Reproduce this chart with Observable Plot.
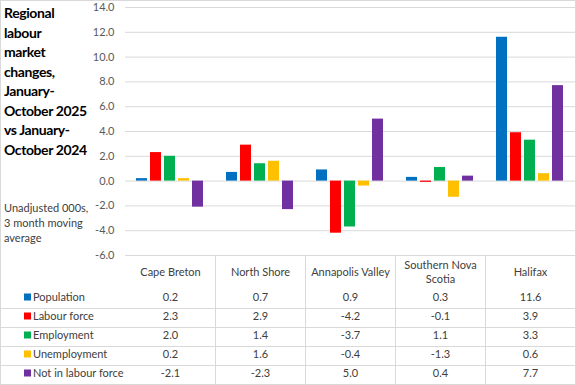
<!DOCTYPE html>
<html><head><meta charset="utf-8">
<script src="https://cdn.jsdelivr.net/npm/d3@7"></script>
<script src="https://cdn.jsdelivr.net/npm/@observablehq/plot@0.6"></script>
<style>
body{margin:0;background:#fff;}
#wrap{position:relative;width:576px;height:385px;overflow:hidden;font-family:Lato,"Open Sans",sans-serif;}
#chart{position:absolute;left:0;top:0;}
#title{position:absolute;left:4px;top:3px;font-weight:bold;font-size:14px;letter-spacing:-0.4px;line-height:19.5px;color:#000;white-space:nowrap;}
#sub{position:absolute;left:4px;top:200px;font-size:11px;line-height:15px;color:#404040;white-space:nowrap;}
</style></head>
<body>
<div id="wrap"><div id="chart"></div>
<div id="title">Regional<br>labour<br>market<br>changes,<br>January-<br>October 2025<br>vs January-<br>October 2024</div>
<div id="sub">Unadjusted 000s,<br>3 month moving<br>average</div>
</div>
<script>
const regions = ["Cape Breton","North Shore","Annapolis Valley","Southern Nova Scotia","Halifax"];
const regionLabels = ["Cape Breton","North Shore","Annapolis Valley","Southern Nova\nScotia","Halifax"];
const seriesNames = ["Population","Labour force","Employment","Unemployment","Not in labour force"];
const seriesColors = ["#0070C0","#FF0000","#00B050","#FFC000","#7030A0"];
const population = [0.2,0.7,0.9,0.3,11.6];
const labourForce = [2.3,2.9,-4.2,-0.1,3.9];
const employment = [2.0,1.4,-3.7,1.1,3.3];
const unemployment = [0.2,1.6,-0.4,-1.3,0.6];
const notInLabourForce = [-2.1,-2.3,5.0,0.4,7.7];
const yTicks = [-6,-4,-2,0,2,4,6,8,10,12,14];

const seriesValues = [population,labourForce,employment,unemployment,notInLabourForce];
const data = [];
seriesValues.forEach((vals,i)=>regions.forEach((r,j)=>data.push({region:r,series:seriesNames[i],value:vals[j]})));

const W=576,H=385,ML=125,MT=7,MB=130,MR=1;
const fmt = d=>d.toFixed(1);
const textColor="#404040";

const rowMarks = seriesValues.map((vals,i)=>Plot.text(regions,{
  fx:d=>d, text:(d,j)=>fmt(vals[j]), frameAnchor:"bottom", lineAnchor:"middle", dy:42+19*i,
  fill:textColor, fontSize:11
}));

const plot = Plot.plot({
  width:W, height:H, marginLeft:ML, marginRight:MR, marginTop:MT, marginBottom:MB,
  style:{fontFamily:'Lato,"Open Sans",sans-serif',fontSize:"11px",background:"transparent",overflow:"visible"},
  fx:{domain:regions, paddingInner:0, paddingOuter:0, axis:null, label:null},
  x:{domain:seriesNames, paddingInner:0.214, paddingOuter:0.82, axis:null, label:null},
  y:{domain:[-6,14], label:null},
  color:{domain:seriesNames, range:seriesColors},
  marks:[
    Plot.gridY(yTicks,{stroke:"#d9d9d9",strokeOpacity:1}),
    Plot.axisY(yTicks,{tickSize:0,tickPadding:11,tickFormat:fmt,label:null,fill:"#595959",fontSize:11}),
    Plot.barY(data,{fx:"region",x:"series",y:"value",fill:"series",inset:0}),
    Plot.text(regions,{fx:d=>d,text:(d,j)=>regionLabels[j],frameAnchor:"bottom",lineAnchor:"middle",dy:16,lineHeight:1.27,fill:textColor,fontSize:11}),
    ...rowMarks
  ]
});
document.getElementById("chart").appendChild(plot);

// table lines, row labels and border
const svg = d3.select(plot);
const fx = plot.scale("fx");
const g = svg.append("g").attr("text-anchor","start");
const tableTop = H-MB, tableBottom = H-1;
[308,327,346,365].forEach(y=>g.append("line").attr("x1",1).attr("x2",W-1).attr("y1",y+0.5).attr("y2",y+0.5).attr("stroke","#d9d9d9"));
regions.slice(0,-1).forEach(r=>{
  const x = Math.round(fx.apply(r)+fx.bandwidth)+0.5;
  g.append("line").attr("x1",x).attr("x2",x).attr("y1",tableTop).attr("y2",tableBottom).attr("stroke","#d9d9d9");
});
seriesNames.forEach((s,i)=>{
  const cy = 297+19*i;
  g.append("rect").attr("x",24).attr("y",cy-3.5).attr("width",7).attr("height",7).attr("fill",seriesColors[i]);
  g.append("text").attr("x",33).attr("y",cy).attr("dy","0.35em").attr("text-anchor","start").attr("fill",textColor).attr("font-size",11).text(s);
});
g.append("rect").attr("x",0.5).attr("y",0.5).attr("width",W-1).attr("height",H-1).attr("fill","none").attr("stroke","#d9d9d9");
</script>
</body></html>
